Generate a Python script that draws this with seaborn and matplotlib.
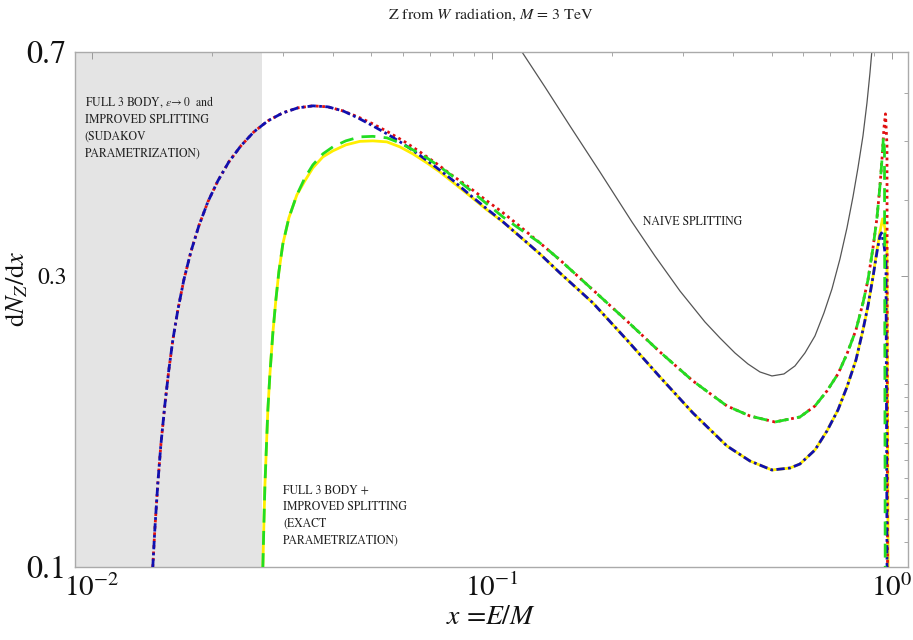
import numpy as np
import pandas as pd
import matplotlib
matplotlib.use("Agg")
import matplotlib.pyplot as plt
from matplotlib.ticker import FixedLocator, FixedFormatter, NullFormatter
import seaborn as sns

# ---------------- data ----------------
# rise shared by the two Sudakov-parametrization curves (red dotted, blue dash-dot)
sud_rise_x = [0.014203, 0.014367, 0.014622, 0.014877, 0.015223, 0.015577, 0.015940, 0.016406,
              0.016982, 0.017681, 0.018513, 0.019498, 0.020654, 0.022003, 0.023578, 0.025410,
              0.027542, 0.030026, 0.032734, 0.035686, 0.038905, 0.042413]
sud_rise_y = [0.1000, 0.11500, 0.13735, 0.15856, 0.18444, 0.21051, 0.23578, 0.26408,
              0.29578, 0.32880, 0.36275, 0.39716, 0.42997, 0.46197, 0.49075, 0.51741,
              0.53937, 0.55592, 0.56652, 0.57082, 0.56867, 0.56014]
mid_x = [0.046238, 0.050410, 0.054954, 0.060604, 0.066069, 0.072862, 0.079894, 0.088105,
         0.097163, 0.10593, 0.11548]
red_mid_y = [0.54758, 0.53329, 0.51741, 0.49822, 0.47975, 0.45850, 0.43817, 0.41875,
             0.39866, 0.38243, 0.36548]
blue_mid_y = [0.54551, 0.52927, 0.51254, 0.49261, 0.47345, 0.45162, 0.43078, 0.40779,
              0.38678, 0.36965, 0.35193]

# rise shared by the two exact-parametrization curves (green dashed, yellow solid)
exact_rise_x = [0.026761, 0.026915, 0.027071, 0.027305, 0.027542, 0.027861, 0.028346,
                0.028840, 0.029343, 0.030026, 0.031081, 0.032546]
exact_rise_y = [0.1000, 0.11720, 0.13529, 0.15678, 0.18099, 0.20657, 0.24210,
                0.27425, 0.30486, 0.33888, 0.37385, 0.40779]
exact_mid_x = [0.034080, 0.035686, 0.037801, 0.040040, 0.043152, 0.046774, 0.050410,
               0.054639, 0.058884, 0.063460, 0.068787, 0.074131, 0.080816, 0.088105,
               0.097163, 0.10655, 0.11548]
green_mid_y = [0.43487, 0.45677, 0.47616, 0.48891, 0.50012, 0.50775, 0.50871,
               0.50583, 0.49633, 0.48339, 0.46900, 0.45332, 0.43487, 0.41558,
               0.39412, 0.37526, 0.36136]
yellow_mid_y = [0.42997, 0.45162, 0.47078, 0.48158, 0.49261, 0.49917, 0.50012,
                0.49822, 0.48891, 0.47616, 0.46023, 0.44477, 0.42512, 0.40627,
                0.38534, 0.36826, 0.35193]

# upper branch shared by red and green
upper_x = [0.13183, 0.14791, 0.17886, 0.21752, 0.26303, 0.31806, 0.38681, 0.44157, 0.50992,
           0.58884, 0.64196, 0.68786, 0.73282, 0.77179, 0.81283, 0.84628, 0.87096, 0.89648,
           0.91728, 0.93325, 0.94406]
upper_y = [0.34017, 0.31899, 0.28481, 0.25333, 0.22533, 0.20195, 0.18374, 0.17693, 0.17296,
           0.17626, 0.18374, 0.19446, 0.20736, 0.22363, 0.24486, 0.27115, 0.29578, 0.33381,
           0.37385, 0.42192, 0.46547]
red_end_x = [0.95499, 0.96328, 0.97163, 0.97499]
red_end_y = [0.52529, 0.55382, 0.49261, 0.0880]
green_end_x = [0.95224, 0.95774, 0.96217]
green_end_y = [0.50775, 0.48339, 0.0880]

# lower branch shared by blue and yellow
lower_x = [0.13183, 0.14791, 0.17886, 0.21752, 0.26303, 0.31806, 0.38681, 0.44157, 0.50119,
           0.55590, 0.58884, 0.64196, 0.68786, 0.73282, 0.77179, 0.81283, 0.84628, 0.87096,
           0.89648]
lower_y = [0.32632, 0.30370, 0.27115, 0.23578, 0.20502, 0.17894, 0.15797, 0.14926, 0.14427,
           0.14536, 0.14758, 0.15560, 0.16718, 0.18099, 0.19741, 0.21862, 0.24486, 0.26810,
           0.29915]
blue_end_x = [0.91728, 0.93325, 0.94134, 0.95499, 0.96605, 0.97275]
blue_end_y = [0.32880, 0.34929, 0.35327, 0.33760, 0.31899, 0.0880]
yellow_end_x = [0.91728, 0.93325, 0.94682, 0.96054, 0.97163, 0.97893]
yellow_end_y = [0.33129, 0.35460, 0.37244, 0.35998, 0.33129, 0.0880]

naive_x = [0.11885, 0.13565, 0.15668, 0.18621, 0.22387, 0.25551, 0.29512, 0.34078, 0.37154,
           0.40503, 0.43652, 0.46774, 0.50119, 0.53703, 0.57213, 0.60604, 0.64196, 0.67608,
           0.70795, 0.74131, 0.77179, 0.79890, 0.82224, 0.84628, 0.86596, 0.88105, 0.89125]
naive_y = [0.7000, 0.61330, 0.52927, 0.44477, 0.36826, 0.32386, 0.28373, 0.25237, 0.23757,
           0.22448, 0.21534, 0.20893, 0.20580, 0.20736, 0.21372, 0.22448, 0.23937, 0.26110,
           0.28589, 0.32020, 0.35998, 0.40474, 0.45162, 0.50967, 0.57733, 0.64662, 0.70530]

red_x = sud_rise_x + mid_x + upper_x + red_end_x
red_y = sud_rise_y + red_mid_y + upper_y + red_end_y
blue_x = sud_rise_x + mid_x + lower_x + blue_end_x
blue_y = sud_rise_y + blue_mid_y + lower_y + blue_end_y
green_x = exact_rise_x + exact_mid_x + upper_x + green_end_x
green_y = exact_rise_y + green_mid_y + upper_y + green_end_y
yellow_x = exact_rise_x + exact_mid_x + lower_x + yellow_end_x
yellow_y = exact_rise_y + yellow_mid_y + lower_y + yellow_end_y

shade_right = 0.0266
x_limits = (0.00907, 1.0965)
y_limits = (0.1, 0.7)
y_tick_vals = [0.1, 0.3, 0.7]
y_tick_labels = ["0.1", "0.3", "0.7"]
y_minor_vals = [0.11, 0.12, 0.13, 0.14, 0.15, 0.16, 0.17, 0.18, 0.19, 0.2, 0.4, 0.5, 0.6]
x_tick_vals = [0.01, 0.1, 1.0]
x_tick_labels = [r"$10^{-2}$", r"$10^{-1}$", r"$10^{0}$"]
x_minor_vals = [0.02, 0.03, 0.04, 0.05, 0.06, 0.07, 0.08, 0.09,
                0.2, 0.3, 0.4, 0.5, 0.6, 0.7, 0.8, 0.9]

title_text = r"Z from $W$ radiation, $M$ = 3 TeV"
label_sudakov = "FULL 3 BODY, $\\epsilon\\!\\rightarrow 0$  and\nIMPROVED SPLITTING\n(SUDAKOV\nPARAMETRIZATION)"
label_exact = "FULL 3 BODY +\nIMPROVED SPLITTING\n(EXACT\nPARAMETRIZATION)"
label_naive = "NAIVE SPLITTING"

# ---------------- style ----------------
sns.set_style("white")
plt.rcParams["font.family"] = ["STIXGeneral", "DejaVu Serif"]
plt.rcParams["mathtext.fontset"] = "stix"

fig = plt.figure(figsize=(9.13, 6.40), dpi=100)
ax = fig.add_axes([0.082, 0.114, 0.9125, 0.805])
ax.set_xscale("log")
ax.set_yscale("log")

ax.axvspan(x_limits[0], shade_right, color="#e4e4e4", lw=0, zorder=0)

lw = 2.0
common = dict(sort=False, estimator=None, ax=ax)
sns.lineplot(x=naive_x, y=naive_y, color="#555555", lw=0.9, zorder=2, **common)
sns.lineplot(x=yellow_x, y=yellow_y, color="#ffee00", lw=lw, zorder=3, **common)
sns.lineplot(x=red_x, y=red_y, color="#e01010", lw=lw,
             linestyle=(0, (1.0, 1.3)), zorder=4, **common)
sns.lineplot(x=blue_x, y=blue_y, color="#1010b0", lw=lw,
             linestyle=(0, (3.0, 1.2, 1.0, 1.2)), zorder=5, **common)
sns.lineplot(x=green_x, y=green_y, color="#22dd22", lw=lw,
             linestyle=(0, (5.0, 3.0)), zorder=6, **common)

ax.set_xlim(*x_limits)
ax.set_ylim(*y_limits)

ax.xaxis.set_major_locator(FixedLocator(x_tick_vals))
ax.xaxis.set_major_formatter(FixedFormatter(x_tick_labels))
ax.xaxis.set_minor_locator(FixedLocator(x_minor_vals))
ax.xaxis.set_minor_formatter(NullFormatter())
ax.yaxis.set_major_locator(FixedLocator(y_tick_vals))
ax.yaxis.set_major_formatter(FixedFormatter(y_tick_labels))
ax.yaxis.set_minor_locator(FixedLocator(y_minor_vals))
ax.yaxis.set_minor_formatter(NullFormatter())

ax.tick_params(which="both", direction="in", top=True, right=True,
               color="#999999", labelcolor="#111111")
ax.tick_params(axis="x", which="major", labelsize=21, length=5, width=0.7, pad=5)
ax.tick_params(axis="y", which="major", labelsize=23, length=5, width=0.7, pad=6)
ax.tick_params(which="minor", length=3, width=0.6)

for sp in ax.spines.values():
    sp.set_color("#aaaaaa")
    sp.set_linewidth(1.0)

ax.set_xlabel(r"$x$ =$E/M$", fontsize=20, labelpad=2, color="#111111")
ax.set_ylabel(r"d$N_Z$/d$x$", fontsize=19, color="#111111")
ax.yaxis.set_label_coords(-0.053, 0.54)

fig.text(0.538, 0.977, title_text, ha="center", va="center", fontsize=11.5, color="#222222")

ax.text(0.012, 0.918, label_sudakov, transform=ax.transAxes, ha="left", va="top",
        fontsize=8.5, linespacing=1.55, color="#222222")
ax.text(0.250, 0.159, label_exact, transform=ax.transAxes, ha="left", va="top",
        fontsize=8.5, linespacing=1.55, color="#222222")
ax.text(0.741, 0.67, label_naive, transform=ax.transAxes, ha="center", va="center",
        fontsize=8.5, color="#222222")

fig.canvas.draw()
for t in ax.yaxis.get_major_ticks():
    if t.label1.get_text() == "0.3":
        t.label1.set_fontsize(17)

fig.savefig("out.png", dpi=100)
